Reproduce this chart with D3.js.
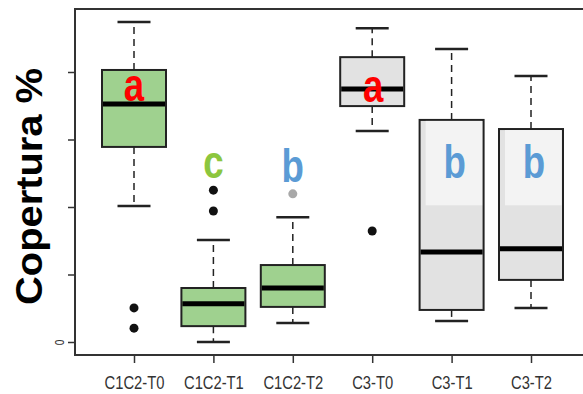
<!DOCTYPE html>
<html><head><meta charset="utf-8">
<script src="https://cdn.jsdelivr.net/npm/d3@7"></script>
<style>html,body{margin:0;padding:0;background:#fff;}svg{display:block;}</style>
</head><body>
<script>
const categories = ["C1C2-T0","C1C2-T1","C1C2-T2","C3-T0","C3-T1","C3-T2"];
const whiskerLow  = [40.3, 0.0, 5.6, 62.5, 6.2, 10.1];
const q1          = [57.8, 4.7, 10.4, 69.9, 9.5, 18.4];
const medians     = [70.5, 11.3, 16.0, 75.0, 26.7, 27.6];
const q3          = [80.6, 16.0, 22.8, 84.4, 65.8, 63.1];
const whiskerHigh = [94.8, 30.2, 37.0, 93.0, 86.8, 78.8];
const outliers    = [[10.1, 4.1], [45.0, 38.8], [43.9], [32.9], [], []];
const groups      = ["C1C2","C1C2","C1C2","C3","C3","C3"];
const letters     = ["a","c","b","a","b","b"];
const letterColors = ["#ff0000","#8cc63e","#5b9bd5","#ff0000","#5b9bd5","#5b9bd5"];
const letterValues = [71.5, 48.5, 47.5, 71, 48.5, 48.5];
const yTicks = [0, 20, 40, 60, 80];
const yTickLabels = ["0","","","",""];
const yTitle = "Copertura %";

const W = 583, H = 394;
const svg = d3.select("body").append("svg").attr("width", W).attr("height", H);

const plotL = 75, plotT = 9, plotB = 355, plotR = 600;
const x = d3.scalePoint().domain(categories).range([134, 531]);
const y = d3.scaleLinear().domain([0, 80]).range([342, 72]);
const boxW = 64, capW = 33;
const FONT = "'Liberation Sans','Arial',sans-serif";

const fills = {C1C2: "#9fd18f", C3: "#e2e2e2"};

const g = svg.append("g");

categories.forEach((c, i) => {
  const cx = x(c);
  const gg = g.append("g");
  gg.append("line").attr("x1", cx).attr("x2", cx)
    .attr("y1", y(q3[i])).attr("y2", y(whiskerHigh[i]))
    .attr("stroke", "#222").attr("stroke-width", 1.5).attr("stroke-dasharray", "7,5");
  gg.append("line").attr("x1", cx).attr("x2", cx)
    .attr("y1", y(q1[i])).attr("y2", y(whiskerLow[i]))
    .attr("stroke", "#222").attr("stroke-width", 1.5).attr("stroke-dasharray", "7,5");
  [whiskerHigh[i], whiskerLow[i]].forEach(v => {
    gg.append("line").attr("x1", cx - capW/2).attr("x2", cx + capW/2)
      .attr("y1", y(v)).attr("y2", y(v)).attr("stroke", "#222").attr("stroke-width", 2.5);
  });
  gg.append("rect").attr("x", cx - boxW/2).attr("width", boxW)
    .attr("y", y(q3[i])).attr("height", y(q1[i]) - y(q3[i]))
    .attr("fill", fills[groups[i]]).attr("stroke", "#222").attr("stroke-width", 2);
  if (groups[i] === "C3" && i > 3) {
    gg.append("rect").attr("x", cx - 26).attr("width", boxW/2 + 26 - 1.5)
      .attr("y", y(q3[i]) + 1).attr("height", y(40.5) - y(q3[i]) - 1)
      .attr("fill", "#f3f3f3");
  }
  gg.append("line").attr("x1", cx - boxW/2 + 1).attr("x2", cx + boxW/2 - 1)
    .attr("y1", y(medians[i])).attr("y2", y(medians[i]))
    .attr("stroke", "#000").attr("stroke-width", 5);
  outliers[i].forEach(v => {
    const grey = (i === 2);
    gg.append("circle").attr("cx", cx).attr("cy", y(v)).attr("r", 4.5)
      .attr("fill", grey ? "#a8a8a8" : "#111");
  });
  const lx = cx + (i === 3 ? 1 : (i > 3 ? 3 : 0));
  gg.append("text")
    .attr("transform", `translate(${lx},${y(letterValues[i])}) scale(0.78,1)`)
    .attr("text-anchor", "middle")
    .attr("font-family", FONT)
    .attr("font-weight", "bold").attr("font-size", 47)
    .attr("fill", letterColors[i]).text(letters[i]);
});

const frame = svg.append("g").attr("stroke", "#333").attr("stroke-width", 2).attr("fill", "none");
frame.append("path").attr("d", `M${plotR},${plotT}H${plotL}V${plotB}H${plotR}`);

const yAxis = d3.axisLeft(y).tickValues(yTicks).tickSize(7).tickFormat((d, i) => yTickLabels[i]);
const ya = svg.append("g").attr("transform", `translate(${plotL},0)`).call(yAxis);
ya.select(".domain").remove();
ya.selectAll(".tick line").attr("stroke", "#333").attr("stroke-width", 1.5);
ya.selectAll(".tick text")
  .attr("font-family", FONT)
  .attr("font-size", 12).attr("fill", "#333")
  .attr("x", 0).attr("dy", 0).attr("text-anchor", "middle")
  .attr("transform", "translate(-11,0) rotate(-90) scale(0.85,1)");

const xAxis = d3.axisBottom(x).tickSize(8).tickPadding(0);
const xa = svg.append("g").attr("transform", `translate(0,${plotB})`).call(xAxis);
xa.select(".domain").remove();
xa.selectAll(".tick line").attr("stroke", "#333").attr("stroke-width", 1.5);
xa.selectAll(".tick text")
  .attr("font-family", FONT)
  .attr("font-size", 18).attr("fill", "#333")
  .attr("y", 0).attr("dy", 0)
  .attr("transform", "translate(0,34) scale(0.82,1)");

svg.append("text")
  .attr("transform", `translate(42,${(68+305)/2}) rotate(-90)`)
  .attr("text-anchor", "middle")
  .attr("font-family", FONT)
  .attr("font-weight", "bold").attr("font-size", 36).attr("fill", "#000")
  .attr("textLength", 237).attr("lengthAdjust", "spacingAndGlyphs")
  .text(yTitle);
</script>
</body></html>
